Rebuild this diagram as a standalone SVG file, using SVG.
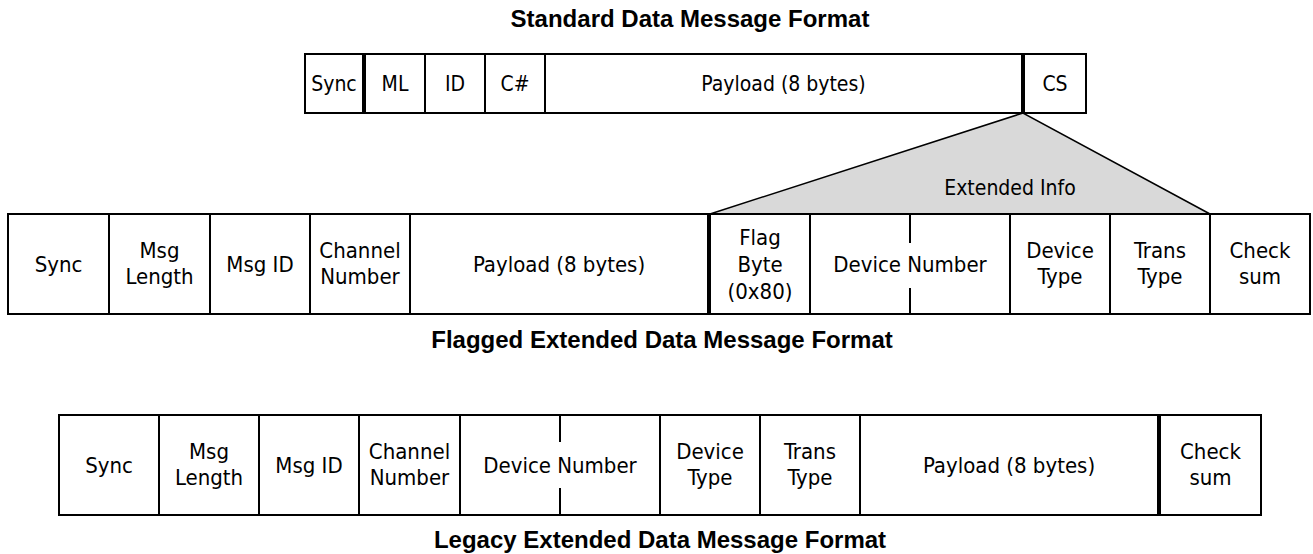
<svg xmlns="http://www.w3.org/2000/svg" width="1313" height="554" viewBox="0 0 1313 554">
<style>
.cell{fill:#fff;stroke:#000;stroke-width:2}
.t{font-family:"DejaVu Sans Condensed","DejaVu Sans",sans-serif;font-size:22px;fill:#000;text-anchor:middle}
.ts{font-size:21px}
.title{font-family:"Liberation Sans",Arial,sans-serif;font-weight:bold;font-size:24px;fill:#000;text-anchor:middle}
.div{stroke:#000;stroke-width:2}
.fan{fill:#d9d9d9;stroke:#000;stroke-width:1.5}
</style>
<rect width="1313" height="554" fill="#fff"/>

<g id="connectors">
<path class="fan" d="M710,214 L1023,113 L1210,214 Z"/>
<text class="t ts" x="1010" y="195">Extended Info</text>
</g>

<g id="title-standard"><text class="title" x="690" y="27">Standard Data Message Format</text></g>
<g id="std-sync"><rect class="cell" x="305" y="54" width="58" height="59"/><text class="t ts" x="334" y="91">Sync</text></g>
<g id="std-ml"><rect class="cell" x="365" y="54" width="60" height="59"/><text class="t ts" x="395" y="91">ML</text></g>
<g id="std-id"><rect class="cell" x="425" y="54" width="60" height="59"/><text class="t ts" x="455" y="91">ID</text></g>
<g id="std-cn"><rect class="cell" x="485" y="54" width="60" height="59"/><text class="t ts" x="515" y="91">C#</text></g>
<g id="std-payload"><rect class="cell" x="545" y="54" width="477" height="59"/><text class="t ts" x="783.5" y="91">Payload (8 bytes)</text></g>
<g id="std-cs"><rect class="cell" x="1024" y="54" width="62" height="59"/><text class="t ts" x="1055" y="91">CS</text></g>

<g id="flg-sync"><rect class="cell" x="8" y="214" width="101" height="100"/><text class="t" x="58.5" y="272">Sync</text></g>
<g id="flg-len"><rect class="cell" x="109" y="214" width="101" height="100"/><text class="t" x="159.5" y="258">Msg</text><text class="t" x="159.5" y="284">Length</text></g>
<g id="flg-id"><rect class="cell" x="210" y="214" width="100" height="100"/><text class="t" x="260" y="272">Msg ID</text></g>
<g id="flg-chan"><rect class="cell" x="310" y="214" width="100" height="100"/><text class="t" x="360" y="258">Channel</text><text class="t" x="360" y="284">Number</text></g>
<g id="flg-payload"><rect class="cell" x="410" y="214" width="298" height="100"/><text class="t" x="559" y="272">Payload (8 bytes)</text></g>
<g id="flg-flag"><rect class="cell" x="710" y="214" width="100" height="100"/><text class="t" x="760" y="245">Flag</text><text class="t" x="760" y="272">Byte</text><text class="t" x="760" y="299">(0x80)</text></g>
<g id="flg-devnum"><rect class="cell" x="810" y="214" width="200" height="100"/><line class="div" x1="910" y1="214" x2="910" y2="243"/><line class="div" x1="910" y1="288" x2="910" y2="314"/><text class="t" x="910" y="272">Device Number</text></g>
<g id="flg-devtype"><rect class="cell" x="1010" y="214" width="100" height="100"/><text class="t" x="1060" y="258">Device</text><text class="t" x="1060" y="284">Type</text></g>
<g id="flg-trans"><rect class="cell" x="1110" y="214" width="100" height="100"/><text class="t" x="1160" y="258">Trans</text><text class="t" x="1160" y="284">Type</text></g>
<g id="flg-check"><rect class="cell" x="1210" y="214" width="100" height="100"/><text class="t" x="1260" y="258">Check</text><text class="t" x="1260" y="284">sum</text></g>
<g id="title-flagged"><text class="title" x="662" y="348">Flagged Extended Data Message Format</text></g>

<g id="leg-sync"><rect class="cell" x="59" y="415" width="100" height="100"/><text class="t" x="109" y="473">Sync</text></g>
<g id="leg-len"><rect class="cell" x="159" y="415" width="100" height="100"/><text class="t" x="209" y="459">Msg</text><text class="t" x="209" y="485">Length</text></g>
<g id="leg-id"><rect class="cell" x="259" y="415" width="100" height="100"/><text class="t" x="309" y="473">Msg ID</text></g>
<g id="leg-chan"><rect class="cell" x="359" y="415" width="101" height="100"/><text class="t" x="409.5" y="459">Channel</text><text class="t" x="409.5" y="485">Number</text></g>
<g id="leg-devnum"><rect class="cell" x="460" y="415" width="200" height="100"/><line class="div" x1="560" y1="415" x2="560" y2="442"/><line class="div" x1="560" y1="488" x2="560" y2="515"/><text class="t" x="560" y="473">Device Number</text></g>
<g id="leg-devtype"><rect class="cell" x="660" y="415" width="100" height="100"/><text class="t" x="710" y="459">Device</text><text class="t" x="710" y="485">Type</text></g>
<g id="leg-trans"><rect class="cell" x="760" y="415" width="100" height="100"/><text class="t" x="810" y="459">Trans</text><text class="t" x="810" y="485">Type</text></g>
<g id="leg-payload"><rect class="cell" x="860" y="415" width="298" height="100"/><text class="t" x="1009" y="473">Payload (8 bytes)</text></g>
<g id="leg-check"><rect class="cell" x="1160" y="415" width="101" height="100"/><text class="t" x="1210.5" y="459">Check</text><text class="t" x="1210.5" y="485">sum</text></g>
<g id="title-legacy"><text class="title" x="660" y="548">Legacy Extended Data Message Format</text></g>
</svg>
